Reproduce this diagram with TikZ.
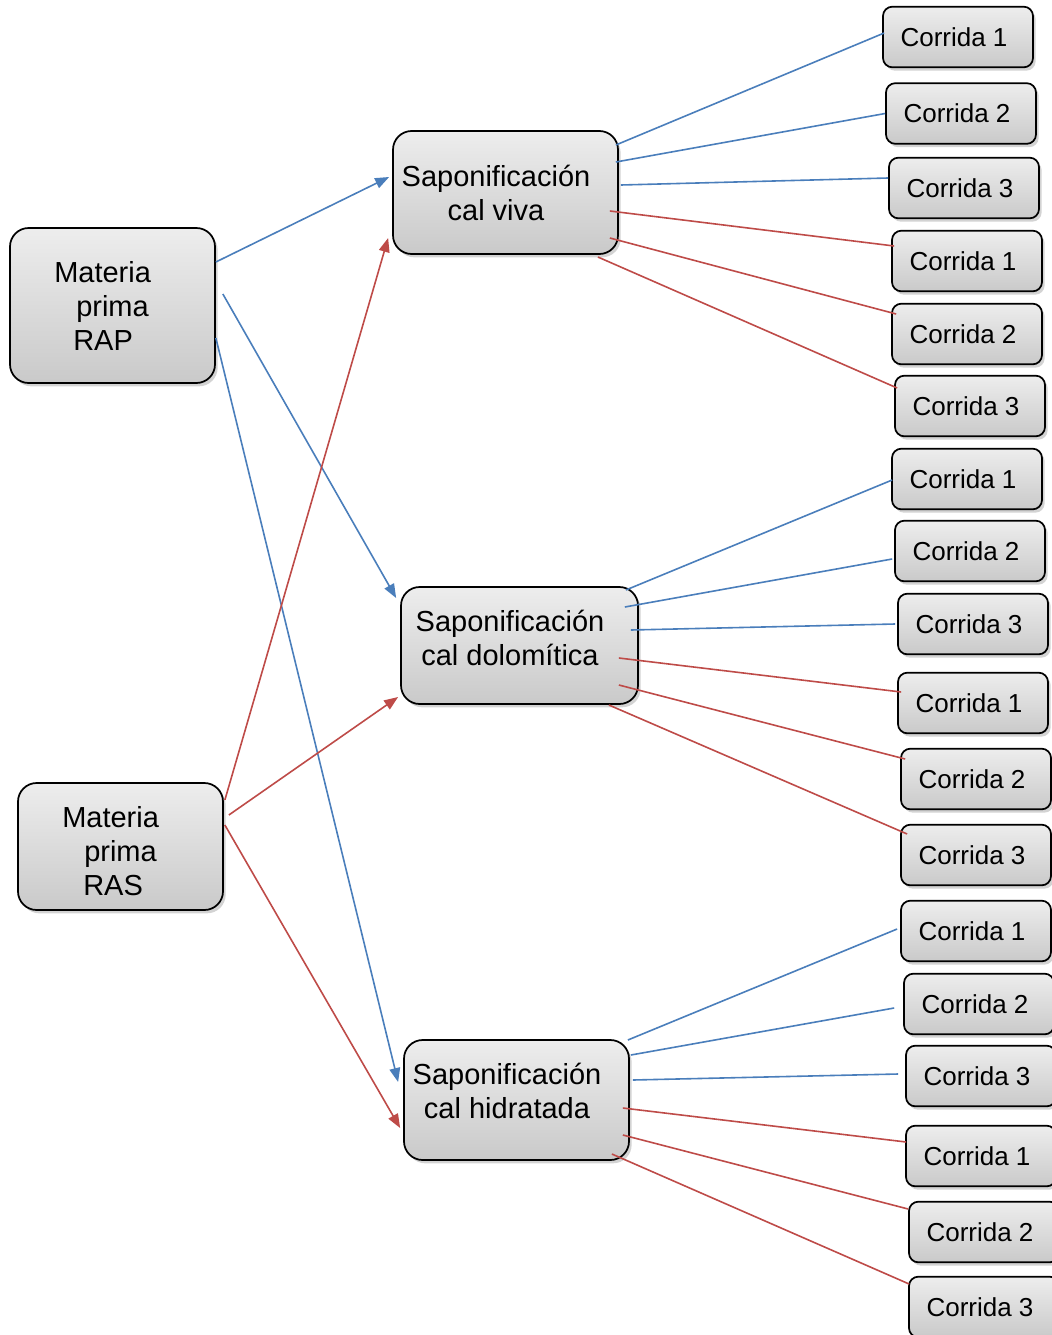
\documentclass[tikz,border=0pt]{standalone}
\usepackage{fontspec}
\setmainfont{Liberation Sans}
\usetikzlibrary{arrows.meta,shadows,calc}
\definecolor{lblue}{HTML}{4A7EBB}
\definecolor{lred}{HTML}{BE4B48}
\tikzset{
  boxbase/.style={draw=black, line width=1.3pt, top color=gray!14, bottom color=gray!42,
    drop shadow={shadow xshift=2pt, shadow yshift=-2.5pt, opacity=0.35}, inner sep=0pt},
  bigbox/.style={boxbase, rounded corners=14pt},
  runbox/.style={boxbase, rounded corners=7pt, minimum width=112.5pt, minimum height=45.5pt,
    font=\fontsize{19.5pt}{23pt}\selectfont, execute at begin node={\hspace*{-6pt}}},
  bigtxt/.style={inner sep=0pt, font=\fontsize{21.75pt}{25.5pt}\selectfont},
  bl/.style={draw=lblue, line width=1.2pt},
  rd/.style={draw=lred, line width=1.2pt},
  blarr/.style={bl, -{Triangle[length=10.5pt,width=8pt]}},
  rdarr/.style={rd, -{Triangle[length=10.5pt,width=8pt]}},
}
\begin{document}
\begin{tikzpicture}[x=0.75pt,y=-0.75pt]
\useasboundingbox (0,0) rectangle (1052,1335);
% main boxes
\node[bigbox, minimum width=153.75pt, minimum height=116.25pt] (rap) at (112.5,305.5) {};
\node[bigbox, minimum width=153.75pt, minimum height=95.25pt] (ras) at (120.5,846.5) {};
\node[bigbox, minimum width=168.75pt, minimum height=92.25pt] (viva) at (505.5,192.5) {};
\node[bigbox, minimum width=177.75pt, minimum height=87.75pt] (dolo) at (519.5,645.5) {};
\node[bigbox, minimum width=168.75pt, minimum height=90pt] (hidr) at (516.5,1100) {};
% texts of main boxes
\node[bigtxt, anchor=west, align=left] (raptxt) at (54,306) {Materia\\\hspace*{16.5pt}prima\\\hspace*{14.25pt}RAP};
\node[bigtxt, anchor=west, align=left] (rastxt) at (62,851) {Materia\\\hspace*{16.5pt}prima\\\hspace*{15.75pt}RAS};
\node[bigtxt, align=center] (vivatxt) at (496,193) {Saponificación\\cal viva};
\node[bigtxt, align=center] (dolotxt) at (510,638) {Saponificación\\cal dolomítica};
\node[bigtxt, align=center] (hidrtxt) at (507,1091) {Saponificación\\cal hidratada};
% run boxes
\node[runbox] (c1) at (958,37) {Corrida 1};
\node[runbox] (c2) at (961,113.5) {Corrida 2};
\node[runbox] (c3) at (964,188) {Corrida 3};
\node[runbox] (c4) at (967,261) {Corrida 1};
\node[runbox] (c5) at (967,334) {Corrida 2};
\node[runbox] (c6) at (970,406) {Corrida 3};
\node[runbox] (c7) at (967,479) {Corrida 1};
\node[runbox] (c8) at (970,551) {Corrida 2};
\node[runbox] (c9) at (973,624) {Corrida 3};
\node[runbox] (c10) at (973,703) {Corrida 1};
\node[runbox] (c11) at (976,779) {Corrida 2};
\node[runbox] (c12) at (976,855) {Corrida 3};
\node[runbox] (c13) at (976,931) {Corrida 1};
\node[runbox] (c14) at (979,1004) {Corrida 2};
\node[runbox] (c15) at (981,1076) {Corrida 3};
\node[runbox] (c16) at (981,1156) {Corrida 1};
\node[runbox] (c17) at (984,1232) {Corrida 2};
\node[runbox] (c18) at (984,1307) {Corrida 3};
% viva -> runs
\draw[bl] ([shift={(-3,-47.5)}]viva.east) -- ([shift={(2,-4)}]c1.west);
\draw[bl] ([shift={(-3,-30.5)}]viva.east) -- ([shift={(0,0)}]c2.west);
\draw[bl] ([shift={(2,-7.5)}]viva.east) -- ([shift={(0,-10)}]c3.west);
\draw[rd] ([shift={(-9,18.5)}]viva.east) -- ([shift={(3,-15)}]c4.west);
\draw[rd] ([shift={(-9,45.5)}]viva.east) -- ([shift={(5,-20)}]c5.west);
\draw[rd] ([shift={(-21,64.5)}]viva.east) -- ([shift={(3,-18)}]c6.west);
% dolo -> runs
\draw[bl] ([shift={(-13,-55.5)}]dolo.east) -- ([shift={(1,1)}]c7.west);
\draw[bl] ([shift={(-14,-38.5)}]dolo.east) -- ([shift={(-2,8)}]c8.west);
\draw[bl] ([shift={(-8,-15.5)}]dolo.east) -- ([shift={(-2,0)}]c9.west);
\draw[rd] ([shift={(-20,12.5)}]dolo.east) -- ([shift={(4,-11)}]c10.west);
\draw[rd] ([shift={(-20,39.5)}]dolo.east) -- ([shift={(5,-20)}]c11.west);
\draw[rd] ([shift={(-30,59.5)}]dolo.east) -- ([shift={(7,-21)}]c12.west);
% hidr -> runs
\draw[bl] ([shift={(-2,-60)}]hidr.east) -- ([shift={(-3,-2)}]c13.west);
\draw[bl] ([shift={(1,-45)}]hidr.east) -- ([shift={(-9,4)}]c14.west);
\draw[bl] ([shift={(3,-20)}]hidr.east) -- ([shift={(-7,-2)}]c15.west);
\draw[rd] ([shift={(-7,8)}]hidr.east) -- ([shift={(1,-14)}]c16.west);
\draw[rd] ([shift={(-7,35)}]hidr.east) -- ([shift={(0,-23)}]c17.west);
\draw[rd] ([shift={(-18,54)}]hidr.east) -- ([shift={(1,-23)}]c18.west);
% raw materials -> saponification
\draw[blarr] ([shift={(0,-43.5)}]rap.east) -- ([shift={(-3,-15.5)}]viva.west);
\draw[blarr] ([shift={(7,-11.5)}]rap.east) -- ([shift={(-4,-47.5)}]dolo.west);
\draw[blarr] ([shift={(0,32.5)}]rap.east) -- ([shift={(-5,-18)}]hidr.west);
\draw[rdarr] ([shift={(1,-46.5)}]ras.east) -- ([shift={(-4,45.5)}]viva.west);
\draw[rdarr] ([shift={(5,-31.5)}]ras.east) -- ([shift={(-2,51.5)}]dolo.west);
\draw[rdarr] ([shift={(1,-21.5)}]ras.east) -- ([shift={(-3,28)}]hidr.west);
\end{tikzpicture}
\end{document}
